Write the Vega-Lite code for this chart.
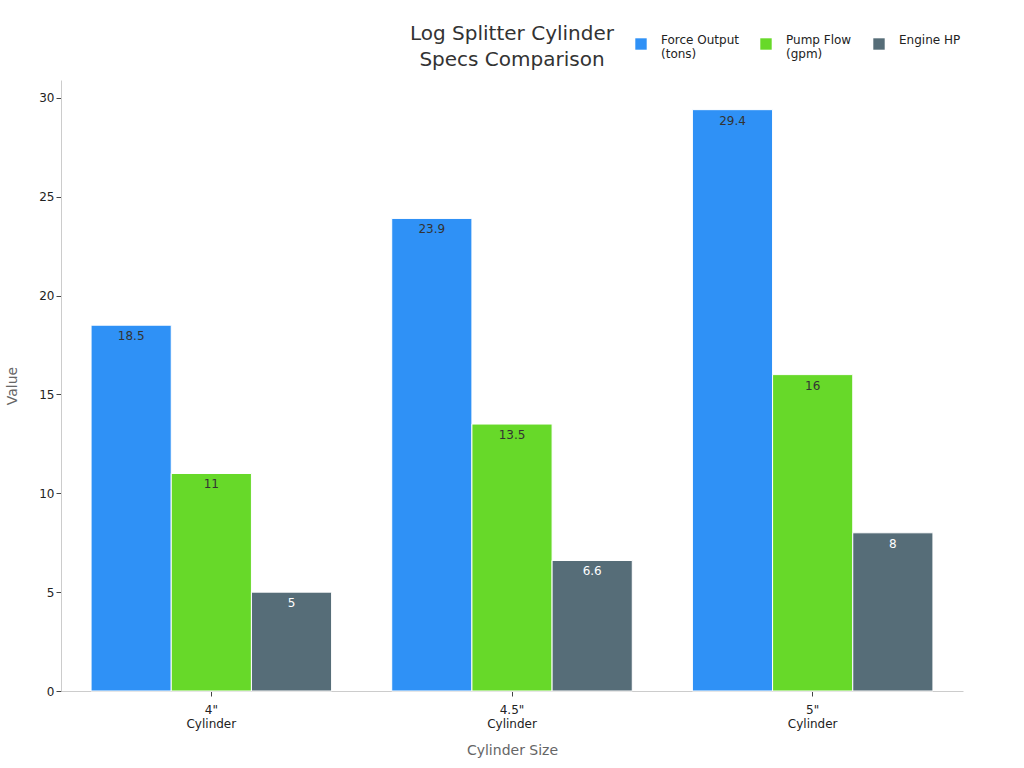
{
  "$schema": "https://vega.github.io/schema/vega-lite/v6.json",
  "width": 902,
  "height": 611,
  "autosize": "none",
  "padding": {"left": 61, "top": 80, "right": 61, "bottom": 77},
  "config": {"font": "DejaVu Sans", "view": {"stroke": null}},
  "title": {"text": ["Log Splitter Cylinder", "Specs Comparison"], "frame": "group", "fontSize": 20, "fontWeight": "normal", "color": "#333333", "offset": -32, "lineHeight": 26},
  "data": {"values": [
    {"cylinder": "4\" Cylinder", "metric": "Force Output (tons)", "value": 18.5},
    {"cylinder": "4\" Cylinder", "metric": "Pump Flow (gpm)", "value": 11},
    {"cylinder": "4\" Cylinder", "metric": "Engine HP", "value": 5},
    {"cylinder": "4.5\" Cylinder", "metric": "Force Output (tons)", "value": 23.9},
    {"cylinder": "4.5\" Cylinder", "metric": "Pump Flow (gpm)", "value": 13.5},
    {"cylinder": "4.5\" Cylinder", "metric": "Engine HP", "value": 6.6},
    {"cylinder": "5\" Cylinder", "metric": "Force Output (tons)", "value": 29.4},
    {"cylinder": "5\" Cylinder", "metric": "Pump Flow (gpm)", "value": 16},
    {"cylinder": "5\" Cylinder", "metric": "Engine HP", "value": 8}
  ]},
  "encoding": {
    "x": {
      "field": "cylinder", "type": "nominal", "sort": null,
      "scale": {"paddingInner": 0.2, "paddingOuter": 0.1},
      "axis": {
        "title": "Cylinder Size", "titleFontSize": 14, "titleFontWeight": "normal", "titleColor": "#666666", "titlePadding": 14,
        "labelAngle": 0, "labelFontSize": 12, "labelColor": "#222222", "labelExpr": "split(datum.label, ' ')",
        "domainColor": "#cccccc", "tickColor": "#444444", "labelPadding": 8
      }
    },
    "xOffset": {"field": "metric", "type": "nominal", "sort": ["Force Output (tons)", "Pump Flow (gpm)", "Engine HP"]},
    "y": {
      "field": "value", "type": "quantitative",
      "scale": {"domain": [0, 30.9], "nice": false},
      "axis": {
        "title": "Value", "titleFontSize": 14, "titleFontWeight": "normal", "titleColor": "#666666", "titlePadding": 19,
        "values": [0, 5, 10, 15, 20, 25, 30], "grid": false,
        "labelFontSize": 12, "labelColor": "#222222", "domainColor": "#cccccc", "tickColor": "#444444"
      }
    }
  },
  "layer": [
    {
      "mark": {"type": "bar", "stroke": "white", "strokeWidth": 1},
      "encoding": {
        "color": {
          "field": "metric", "type": "nominal",
          "scale": {"domain": ["Force Output (tons)", "Pump Flow (gpm)", "Engine HP"], "range": ["#2f91f6", "#67d929", "#566d78"]},
          "legend": {
            "title": null, "orient": "none", "direction": "horizontal", "legendX": 574, "legendY": -42,
            "symbolType": "square", "symbolSize": 130, "symbolStrokeWidth": 0,
            "labelFontSize": 12, "labelColor": "#222222", "columnPadding": 21, "labelOffset": 14, "labelBaseline": "alphabetic",
            "labelExpr": "indexof(datum.label, '(') > 0 ? [substring(datum.label, 0, indexof(datum.label, '(') - 1), substring(datum.label, indexof(datum.label, '('))] : [datum.label, ' ']"
          }
        }
      }
    },
    {
      "mark": {"type": "text", "baseline": "middle", "dy": 11, "fontSize": 12},
      "encoding": {
        "text": {"field": "value", "type": "quantitative"},
        "color": {"condition": {"test": "datum.metric === 'Engine HP'", "value": "#ffffff"}, "value": "#333333"}
      }
    }
  ]
}
